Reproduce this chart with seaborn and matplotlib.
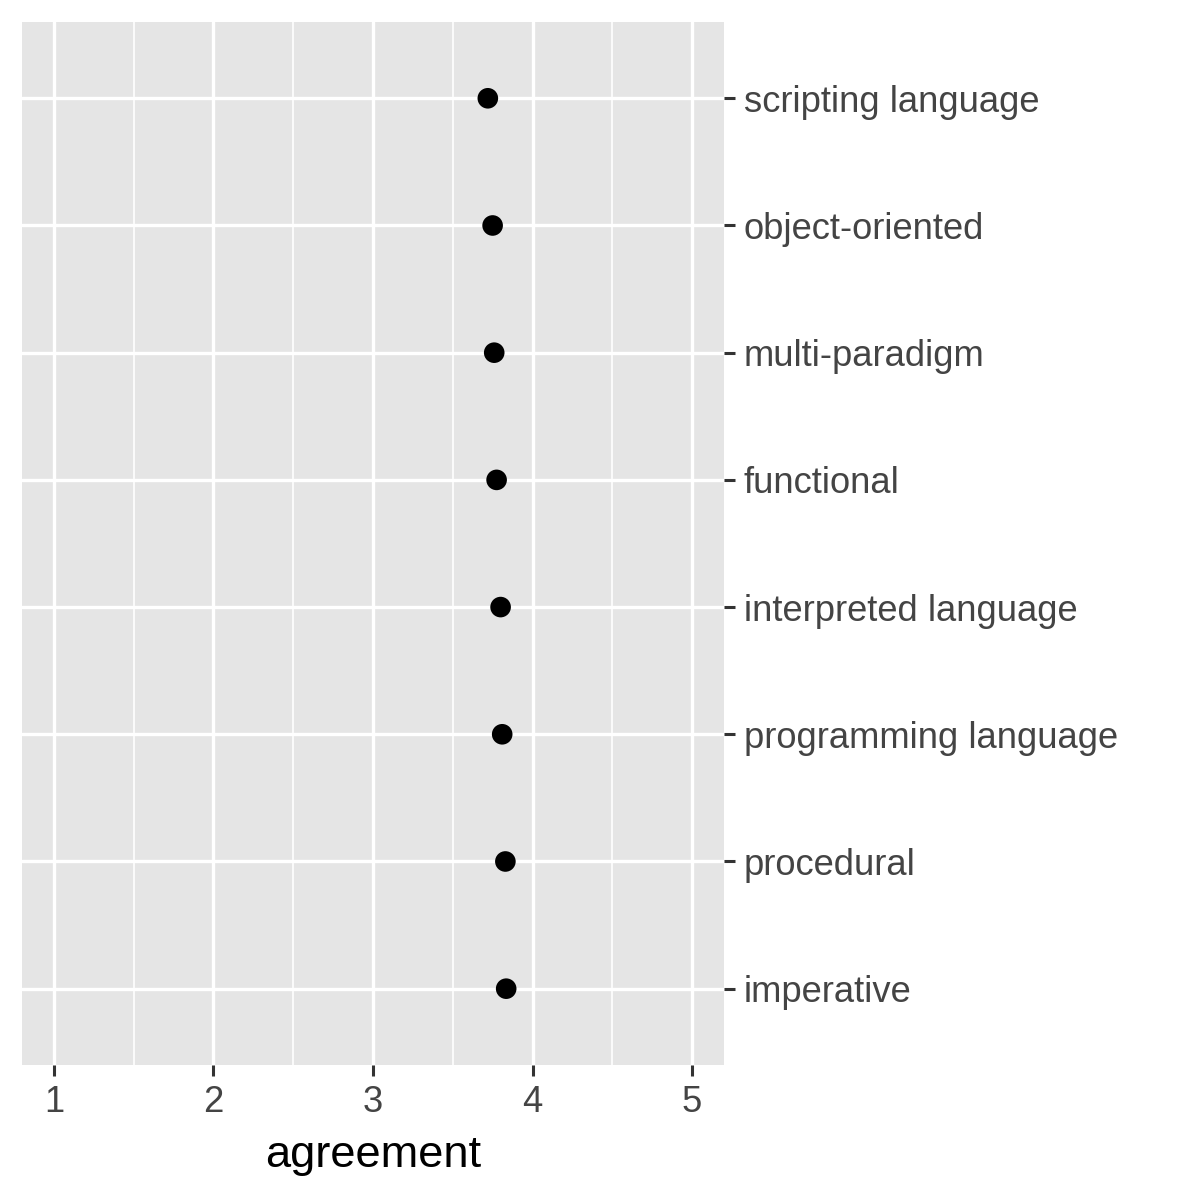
import pandas as pd
import matplotlib.pyplot as plt
import seaborn as sns

# category labels (top to bottom) and mean agreement values
categories = ['scripting language', 'object-oriented', 'multi-paradigm', 'functional',
              'interpreted language', 'programming language', 'procedural', 'imperative']
agreement = [3.72, 3.75, 3.76, 3.775, 3.80, 3.81, 3.83, 3.835]
x_ticks = [1, 2, 3, 4, 5]

df = pd.DataFrame({'category': categories, 'agreement': agreement})

sns.set_theme(style='darkgrid')
plt.rcParams['font.family'] = ['Liberation Sans', 'DejaVu Sans']

fig = plt.figure(figsize=(6, 6), dpi=200)
ax = fig.add_axes([0.0183, 0.1125, 0.585, 0.8692])
ax.set_facecolor('#E5E5E5')

# grid lines like ggplot: major and minor in white
for x in [1.5, 2.5, 3.5, 4.5]:
    ax.axvline(x, color='white', lw=0.6, zorder=0)
for x in x_ticks:
    ax.axvline(x, color='white', lw=1.2, zorder=0)
for i in range(len(categories)):
    ax.axhline(i, color='white', lw=1.2, zorder=0)
ax.grid(False)

sns.scatterplot(data=df, x='agreement', y='category', color='black', s=55,
                edgecolor='none', ax=ax, zorder=3)

ax.set_xlim(0.8, 5.2)
ax.set_ylim(len(categories) - 1 + 0.6, -0.6)
ax.set_xticks(x_ticks)
ax.set_xticklabels([str(v) for v in x_ticks])

ax.yaxis.tick_right()
ax.yaxis.set_label_position('right')
ax.set_ylabel('')
ax.set_xlabel('agreement', fontsize=16.3, color='black', labelpad=5.5)

ax.tick_params(axis='both', which='major', length=4.1, width=1.1, color='#333333',
               labelsize=13.1, labelcolor='#444444', pad=3)
ax.tick_params(axis='y', left=False, right=True)
ax.tick_params(axis='x', bottom=True)

for spine in ax.spines.values():
    spine.set_visible(False)

plt.savefig('out.png', dpi=200)
